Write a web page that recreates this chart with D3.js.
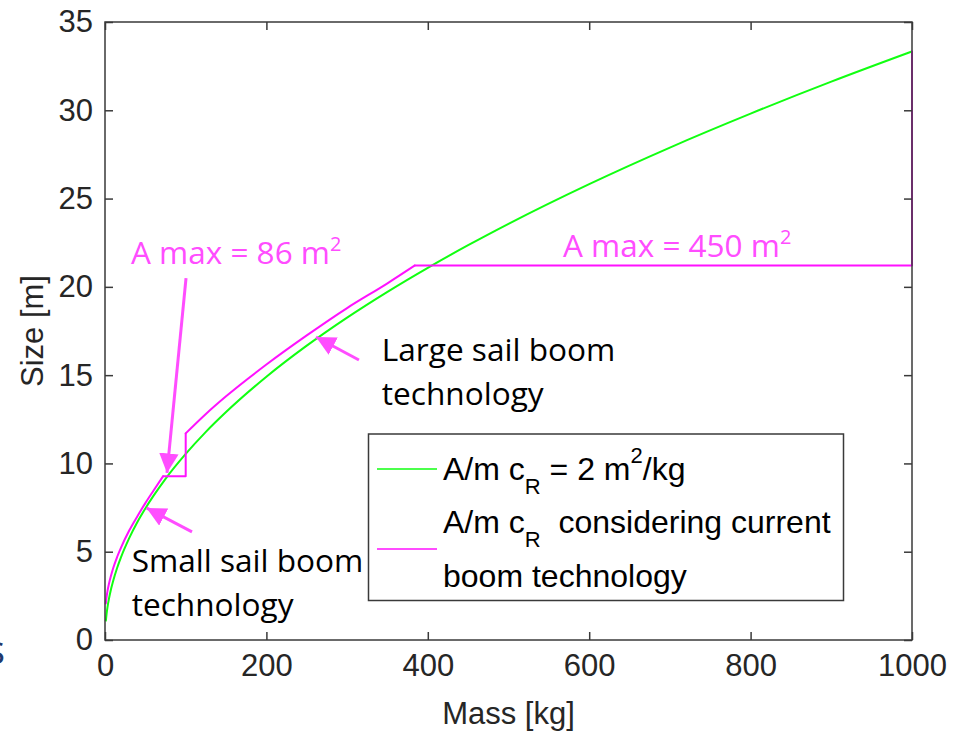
<!DOCTYPE html>
<html>
<head>
<meta charset="utf-8">
<script src="https://cdn.jsdelivr.net/npm/d3@7"></script>
<style>
  html, body { margin: 0; padding: 0; background: #fff; }
  svg { display: block; }
</style>
</head>
<body>
<svg id="chart" width="961" height="732"></svg>
<script>
// Sail size vs. spacecraft mass for A/m·cR = 2 m²/kg

// Reference curve: ideal sail size [m] for each mass [kg]
const massGreen = [1, 2, 3, 5, 7.5, 10, 15, 20, 30, 40, 50, 60, 75, 100, 125, 150, 200, 250, 300, 350, 400, 450, 500, 600, 700, 800, 900, 1000];
const sizeGreen = [1.05, 1.49, 1.83, 2.36, 2.89, 3.33, 4.08, 4.71, 5.77, 6.67, 7.45, 8.16, 9.13, 10.54, 11.79, 12.91, 14.91, 16.67, 18.26, 19.72, 21.08, 22.36, 23.57, 25.82, 27.89, 29.81, 31.62, 33.33];

// Small sail boom branch (below the 86 m² limit)
const massSmallBoom = [1, 2, 3, 5, 7.5, 10, 15, 20, 30, 40, 50, 60];
const sizeSmallBoom = [2.07, 2.45, 2.75, 3.2, 3.65, 4.05, 4.7, 5.25, 6.2, 7.0, 7.75, 8.45];

// Large sail boom branch (below the 450 m² limit)
const massLargeBoom = [100, 125, 150, 200, 250, 300, 350];
const sizeLargeBoom = [11.7, 12.8, 13.8, 15.6, 17.25, 18.8, 20.2];

// Maximum sail areas [m²] and the masses where each limit applies
const areaMax = [86, 450];
const massLimitStart = [72, 384];
const massLimitEnd = [100, 1000];

// Axis ticks
const xTicks = [0, 200, 400, 600, 800, 1000];
const yTicks = [0, 5, 10, 15, 20, 25, 30, 35];

const legendLabels = ["A/m c", "A/m c", "boom technology"];

const width = 961, height = 732;
const margin = { left: 105, right: 961 - 912, top: 22, bottom: 732 - 640 };

const svg = d3.select("#chart");

const x = d3.scaleLinear().domain([0, 1000]).range([margin.left, width - margin.right]);
const y = d3.scaleLinear().domain([0, 35]).range([height - margin.bottom, margin.top]);

const axisColor = "#3a3a3a";
const tickFont = "'Liberation Sans', Arial, Helvetica, sans-serif";
const noteFont = "'Open Sans', 'Noto Sans', sans-serif";
const green = "#11ff11";
const magenta = "#ff11ff";
const noteMagenta = "#ff4dff";

// Stray navy glyph from the slide behind the figure
svg.append("text")
  .attr("x", -14).attr("y", 664)
  .attr("font-family", noteFont).attr("font-size", 40)
  .attr("fill", "#1f3a6e")
  .text("s");

// ---- Curves ----
const pts = (xs, ys) => xs.map((m, i) => [m, ys[i]]);
const smooth = d3.line().x(d => x(d[0])).y(d => y(d[1])).curve(d3.curveMonotoneX);
const straight = d3.line().x(d => x(d[0])).y(d => y(d[1]));

const plot = svg.append("g");

plot.append("path")
  .attr("d", smooth(pts(massGreen, sizeGreen)))
  .attr("fill", "none").attr("stroke", green).attr("stroke-width", 2);

const sizeLimit = areaMax.map(a => Math.sqrt(a));
const magentaStyle = p => p.attr("fill", "none").attr("stroke", magenta)
  .attr("stroke-width", 2).attr("stroke-linejoin", "round").attr("stroke-linecap", "round");

// small boom curve up to the 86 m² limit
plot.append("path")
  .attr("d", smooth(pts(massSmallBoom, sizeSmallBoom).concat([[massLimitStart[0], sizeLimit[0]]])))
  .call(magentaStyle);
// plateau at 86 m² then switch to large boom
plot.append("path")
  .attr("d", straight([[massLimitStart[0], sizeLimit[0]], [massLimitEnd[0], sizeLimit[0]], [massLargeBoom[0], sizeLargeBoom[0]]]))
  .call(magentaStyle);
// large boom curve up to the 450 m² limit
plot.append("path")
  .attr("d", smooth(pts(massLargeBoom, sizeLargeBoom).concat([[massLimitStart[1], sizeLimit[1]]])))
  .call(magentaStyle);
// plateau at 450 m² and closing edge at 1000 kg
plot.append("path")
  .attr("d", straight([[massLimitStart[1], sizeLimit[1]], [massLimitEnd[1], sizeLimit[1]], [massLimitEnd[1], sizeGreen[sizeGreen.length - 1]]]))
  .call(magentaStyle);

// ---- Axes (box with inward ticks on all sides) ----
const tickLen = 8;
const plain = d3.format("d");
const xBottom = d3.axisBottom(x).tickValues(xTicks).tickFormat(plain).tickSizeInner(-tickLen).tickSizeOuter(0).tickPadding(14);
const xTop = d3.axisTop(x).tickValues(xTicks).tickSizeInner(-tickLen).tickSizeOuter(0).tickFormat("");
const yLeft = d3.axisLeft(y).tickValues(yTicks).tickFormat(plain).tickSizeInner(-tickLen).tickSizeOuter(0).tickPadding(12);
const yRight = d3.axisRight(y).tickValues(yTicks).tickSizeInner(-tickLen).tickSizeOuter(0).tickFormat("");

function styleAxis(g) {
  g.select(".domain").remove();
  g.selectAll(".tick line").attr("stroke", axisColor).attr("stroke-width", 1.5);
  g.selectAll(".tick text").attr("fill", "#262626")
    .attr("font-family", tickFont).attr("font-size", 31);
}

svg.append("g").attr("transform", `translate(0,${y(0)})`).call(xBottom).call(styleAxis)
  .selectAll(".tick text").attr("dy", "0.71em");
svg.append("g").attr("transform", `translate(0,${y(35)})`).call(xTop).call(styleAxis);
svg.append("g").attr("transform", `translate(${x(0)},0)`).call(yLeft).call(styleAxis);
svg.append("g").attr("transform", `translate(${x(1000)},0)`).call(yRight).call(styleAxis);

svg.append("rect")
  .attr("x", x(0)).attr("y", y(35))
  .attr("width", x(1000) - x(0)).attr("height", y(0) - y(35))
  .attr("fill", "none").attr("stroke", axisColor).attr("stroke-width", 1.5);

// Axis titles
svg.append("text")
  .attr("x", (x(0) + x(1000)) / 2).attr("y", 724)
  .attr("text-anchor", "middle")
  .attr("font-family", tickFont).attr("font-size", 31).attr("fill", "#262626")
  .text("Mass [kg]");
svg.append("text")
  .attr("transform", `translate(43,${(y(0) + y(35)) / 2}) rotate(-90)`)
  .attr("text-anchor", "middle")
  .attr("font-family", tickFont).attr("font-size", 31).attr("fill", "#262626")
  .text("Size [m]");

// ---- Legend ----
const legend = svg.append("g");
legend.append("rect")
  .attr("x", 368.5).attr("y", 434).attr("width", 475).attr("height", 166.5)
  .attr("fill", "#fff").attr("stroke", axisColor).attr("stroke-width", 1.5);

legend.append("line").attr("x1", 377).attr("x2", 437).attr("y1", 469).attr("y2", 469)
  .attr("stroke", green).attr("stroke-width", 1.5);
legend.append("line").attr("x1", 377).attr("x2", 437).attr("y1", 549).attr("y2", 549)
  .attr("stroke", magenta).attr("stroke-width", 1.5);

const lt1 = legend.append("text").attr("x", 443).attr("y", 480)
  .attr("font-family", tickFont).attr("font-size", 32).attr("fill", "#000");
lt1.append("tspan").text(legendLabels[0]);
lt1.append("tspan").attr("font-size", 22).attr("dy", 14).text("R");
lt1.append("tspan").attr("dy", -14).text(" = 2 m");
lt1.append("tspan").attr("font-size", 22).attr("dy", -17).text("2");
lt1.append("tspan").attr("dy", 17).text("/kg");

const lt2 = legend.append("text").attr("x", 443).attr("y", 533)
  .attr("font-family", tickFont).attr("font-size", 32).attr("fill", "#000")
  .attr("xml:space", "preserve").style("white-space", "pre");
lt2.append("tspan").text(legendLabels[1]);
lt2.append("tspan").attr("font-size", 22).attr("dy", 14).text("R");
lt2.append("tspan").attr("dy", -14).text("  considering current");

legend.append("text").attr("x", 443).attr("y", 587)
  .attr("font-family", tickFont).attr("font-size", 32).attr("fill", "#000")
  .text(legendLabels[2]);

// ---- Annotations ----
const notes = svg.append("g");
svg.append("defs").append("marker")
  .attr("id", "head").attr("viewBox", "0 0 10 10")
  .attr("refX", 10).attr("refY", 5)
  .attr("markerWidth", 6.5).attr("markerHeight", 6.5)
  .attr("markerUnits", "strokeWidth")
  .attr("orient", "auto")
  .append("path").attr("d", "M0,0 L10,5 L0,10 Z").attr("fill", noteMagenta);

// arrows: [tail mass, tail size, tip mass, tip size]
const arrows = [
  [100.4, 20.5, 76.8, 9.46],
  [314.7, 15.86, 261.5, 17.16],
  [107.8, 6.12, 51.4, 7.48]
];
arrows.forEach(a => {
  notes.append("line")
    .attr("x1", x(a[0])).attr("y1", y(a[1]))
    .attr("x2", x(a[2])).attr("y2", y(a[3]))
    .attr("stroke", noteMagenta).attr("stroke-width", 3)
    .attr("marker-end", "url(#head)");
});

function areaNote(mass, size, value) {
  const t = notes.append("text").attr("x", x(mass)).attr("y", y(size))
    .attr("font-family", noteFont).attr("font-size", 31.5).attr("fill", noteMagenta);
  t.append("tspan").text(`A max = ${value} m`);
  t.append("tspan").attr("font-size", 20).attr("dy", -13).text("2");
}
areaNote(32.2, 21.3, areaMax[0]);
areaNote(567.5, 21.69, areaMax[1]);

function blackNote(mass, size, lines) {
  const t = notes.append("text").attr("x", x(mass)).attr("y", y(size))
    .attr("font-family", noteFont).attr("font-size", 31.6).attr("fill", "#000");
  lines.forEach((l, i) => t.append("tspan").attr("x", x(mass)).attr("dy", i ? 43.5 : 0).text(l));
}
blackNote(343, 15.8, ["Large sail boom", "technology"]);
blackNote(33, 3.85, ["Small sail boom", "technology"]);
</script>
</body>
</html>
